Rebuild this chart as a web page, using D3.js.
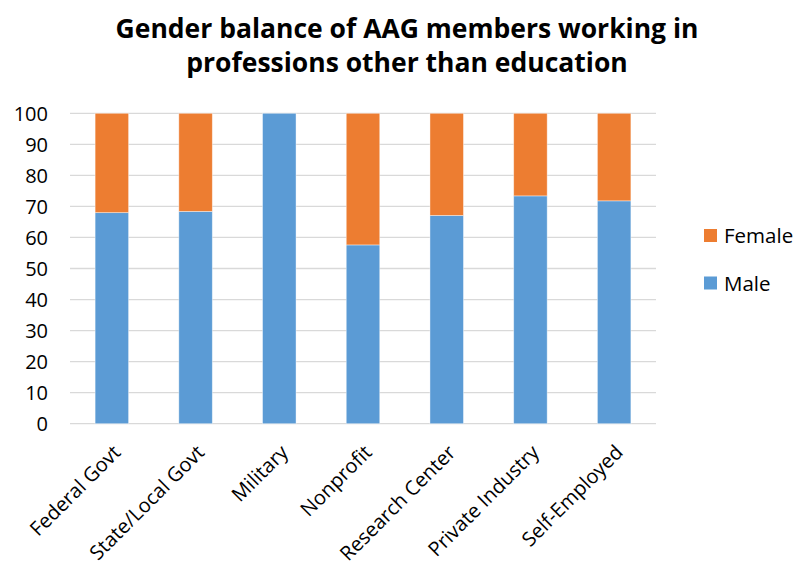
<!DOCTYPE html>
<html>
<head>
<meta charset="utf-8">
<script src="https://cdn.jsdelivr.net/npm/d3@7"></script>
<style>
  html, body { margin: 0; padding: 0; background: #fff; }
  svg { display: block; font-family: "Open Sans", sans-serif; }
</style>
</head>
<body>
<svg id="chart" width="806" height="569"></svg>
<script>
const categories = ["Federal Govt", "State/Local Govt", "Military", "Nonprofit", "Research Center", "Private Industry", "Self-Employed"];
const male = [68.0, 68.4, 100, 57.6, 67.1, 73.4, 71.8];
const female = [32.0, 31.6, 0, 42.4, 32.9, 26.6, 28.2];
const seriesNames = ["Male", "Female"];
const seriesColors = ["#5B9BD5", "#ED7D31"];
const yTicks = [0, 10, 20, 30, 40, 50, 60, 70, 80, 90, 100];
const titleLines = ["Gender balance of AAG members working in", "professions other than education"];

const svg = d3.select("#chart");
const FONT = "'Open Sans', sans-serif";

const x = d3.scaleBand().domain(categories).range([70, 656]).paddingInner(0.6).paddingOuter(0.3);
const y = d3.scaleLinear().domain([0, 100]).range([423.7, 113.3]);

// title
svg.append("g").selectAll("text").data(titleLines).join("text")
  .attr("x", 407).attr("y", (d, i) => 38 + i * 34)
  .attr("text-anchor", "middle")
  .attr("font-size", 26.5).attr("font-weight", "bold").attr("fill", "#000")
  .attr("font-family", FONT)
  .text(d => d);

// gridlines
svg.append("g").selectAll("line").data(yTicks).join("line")
  .attr("x1", 70).attr("x2", 656)
  .attr("y1", d => y(d)).attr("y2", d => y(d))
  .attr("stroke", "#d9d9d9").attr("stroke-width", 1.3);

// y axis labels
const yAxis = d3.axisLeft(y).tickValues(yTicks).tickSize(0).tickPadding(0);
const yg = svg.append("g").attr("transform", "translate(48,0)").call(yAxis);
yg.select(".domain").remove();
yg.selectAll("text").attr("font-size", 20).attr("fill", "#000").attr("font-family", FONT).attr("dy", "0.34em");

// stacked data
const rows = categories.map((c, i) => ({ cat: c, Male: male[i], Female: female[i] }));
const stack = d3.stack().keys(seriesNames)(rows);

svg.append("g").selectAll("g").data(stack).join("g")
  .attr("fill", (d, i) => seriesColors[i])
  .selectAll("rect").data(d => d).join("rect")
  .attr("x", d => x(d.data.cat))
  .attr("width", x.bandwidth())
  .attr("y", d => y(d[1]))
  .attr("height", d => y(d[0]) - y(d[1]))
  .attr("stroke", "#ffffff").attr("stroke-opacity", 0.5).attr("stroke-width", 0.8);

// x axis labels
const xAxis = d3.axisBottom(x).tickSize(0).tickPadding(0);
const xg = svg.append("g").attr("transform", "translate(0,423.7)").call(xAxis);
xg.select(".domain").remove();
xg.selectAll("text")
  .attr("font-size", 20).attr("fill", "#000").attr("font-family", FONT)
  .attr("text-anchor", "end")
  .attr("dy", null)
  .attr("transform", "translate(10,30) rotate(-45)");

// legend
const legendItems = [{ name: "Female", color: seriesColors[1] }, { name: "Male", color: seriesColors[0] }];
const lg = svg.append("g").selectAll("g").data(legendItems).join("g")
  .attr("transform", (d, i) => `translate(704,${229 + i * 47.5})`);
lg.append("rect").attr("width", 13).attr("height", 13).attr("fill", d => d.color);
lg.append("text").attr("x", 20).attr("y", 14).attr("font-size", 20.5).attr("font-family", FONT).attr("fill", "#000").text(d => d.name);
</script>
</body>
</html>
